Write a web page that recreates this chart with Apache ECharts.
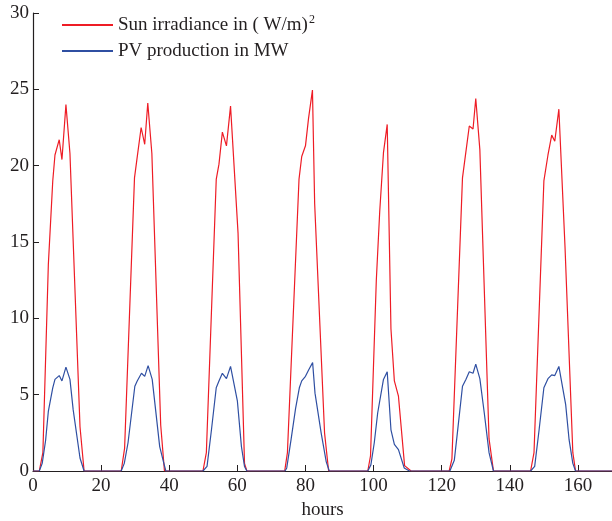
<!DOCTYPE html>
<html>
<head>
<meta charset="utf-8">
<script src="https://cdn.jsdelivr.net/npm/echarts@6/dist/echarts.min.js"></script>
<style>html,body{margin:0;padding:0;background:#fff}#c{width:612px;height:521px}</style>
</head>
<body>
<div id="c"></div>
<script>
// Sun irradiance (W/m^2) samples: hour, value
const irrHours = [0,
  1.85,2.9,4.5,5.8,6.45,7.7,8.5,9.67,10.85,13.8,15.0,
  25.9,26.9,29.8,30.5,31.75,32.8,33.7,34.9,37.5,38.6,
  49.9,50.9,53.8,54.6,55.6,56.8,58.0,60.2,62.1,62.8,
  73.9,74.7,78.1,78.9,80.0,80.9,82.05,82.7,85.6,86.8,
  98.3,99.1,100.8,101.8,102.9,104.0,105.1,106.1,107.3,109.1,111.0,
  122.2,123.0,126.1,127.1,128.1,129.2,130.0,131.2,133.9,135.2,
  146.1,147.1,150.0,151.2,152.3,153.2,154.4,156.2,158.5,159.3,
  170];
const irrValues = [0,
  0,1.2,13.5,19.0,20.7,21.7,20.4,24.0,20.8,2.9,0,
  0,1.5,19.2,20.4,22.5,21.4,24.1,20.8,3.0,0,
  0,1.2,19.1,20.1,22.2,21.3,23.9,15.6,0.5,0,
  0,1.2,19.1,20.6,21.3,23.1,24.95,17.5,2.5,0,
  0,1.0,12.5,17.0,20.85,22.7,9.3,5.9,4.9,0.35,0,
  0,0.8,19.2,20.9,22.6,22.4,24.4,21.05,2.1,0,
  0,1.2,19.0,20.7,22.0,21.6,23.7,14.7,1.2,0,
  0];
// PV production (MW) samples: hour, value
const pvHours = [0,
  1.85,2.7,3.7,4.5,5.8,6.45,7.7,8.5,9.67,10.85,11.8,13.8,15.0,
  25.9,26.8,27.9,29.9,30.6,31.85,32.8,33.8,35.0,36.0,37.2,38.2,39.0,
  49.9,51.1,52.4,53.8,54.6,55.6,56.8,58.0,60.0,61.2,62.1,62.8,
  74.0,74.5,75.8,77.1,78.2,78.9,80.0,81.0,82.1,82.8,84.6,86.1,87.0,
  98.3,99.2,100.2,101.2,102.9,104.0,105.1,106.1,107.3,109.0,110.5,
  122.4,123.7,124.6,126.1,127.1,128.1,129.2,130.0,131.2,132.5,133.9,135.2,
  146.1,147.3,148.6,150.0,151.2,152.3,153.2,154.4,156.4,157.4,158.5,159.3,
  170];
const pvValues = [0,
  0,0.5,2.0,3.9,5.45,6.0,6.25,5.9,6.8,6.0,4.0,0.85,0,
  0,0.5,1.85,5.55,5.9,6.4,6.2,6.9,6.0,4.0,1.6,0.7,0,
  0,0.3,2.7,5.45,5.9,6.4,6.05,6.85,4.6,1.6,0.3,0,
  0,0.2,2.1,4.1,5.45,5.9,6.2,6.65,7.1,5.1,2.5,0.6,0,
  0,0.4,1.85,3.8,6.0,6.5,2.7,1.75,1.4,0.2,0,
  0,0.7,2.5,5.55,6.0,6.5,6.4,7.0,6.05,3.8,1.2,0,
  0,0.3,2.7,5.45,6.05,6.3,6.25,6.85,4.35,2.05,0.5,0,
  0];
const xTicks = [0,20,40,60,80,100,120,140,160];
const seriesNames = ['Sun irradiance in ( W/m)2', 'PV production in MW'];

const zip = (xs, ys) => xs.map((x, i) => [x, ys[i]]);
const font = '"Liberation Serif","DejaVu Serif",serif';
const txt = '#231f20';
const fs = 19;

const chart = echarts.init(document.getElementById('c'), null, {renderer: 'canvas'});
chart.setOption({
  animation: false,
  backgroundColor: '#fff',
  grid: {left: 33, right: 0, top: 13, bottom: 50, containLabel: false, outerBoundsMode: 'none'},
  legend: {
    orient: 'vertical', left: 57, top: 9, itemGap: 7,
    itemWidth: 51, itemHeight: 2, icon: 'rect',
    data: seriesNames,
    formatter: function (n) { return n === seriesNames[0] ? 'Sun irradiance in ( W/m){sup|2}' : n; },
    textStyle: {fontFamily: font, fontSize: fs, color: txt, padding: [0,0,0,0],
      rich: {sup: {fontFamily: font, fontSize: 12, color: txt, verticalAlign: 'top', padding: [0,0,10,1]}}}
  },
  xAxis: {
    type: 'value', min: 0, max: 170,
    name: 'hours', nameLocation: 'middle', nameGap: 30,
    nameTextStyle: {fontFamily: font, fontSize: fs, color: txt},
    splitLine: {show: false},
    axisLine: {onZero: false, lineStyle: {color: '#231f20', width: 1.2}},
    axisTick: {inside: true, length: 6, customValues: xTicks, lineStyle: {color: '#231f20'}},
    axisLabel: {customValues: xTicks, margin: 6, fontFamily: font, fontSize: fs, color: txt}
  },
  yAxis: {
    type: 'value', min: 0, max: 30, interval: 5,
    splitLine: {show: false},
    axisLine: {show: true, lineStyle: {color: '#231f20', width: 1.2}},
    axisTick: {show: true, inside: true, length: 6, lineStyle: {color: '#231f20'}},
    axisLabel: {margin: 4, fontFamily: font, fontSize: fs, color: txt}
  },
  series: [
    {name: seriesNames[0], type: 'line', data: zip(irrHours, irrValues), symbol: 'none',
     color: '#ee1c25', lineStyle: {color: '#ee1c25', width: 1.2}, z: 2},
    {name: seriesNames[1], type: 'line', data: zip(pvHours, pvValues), symbol: 'none',
     color: '#2f4fa2', lineStyle: {color: '#2f4fa2', width: 1.2}, z: 3}
  ]
});
</script>
</body>
</html>
